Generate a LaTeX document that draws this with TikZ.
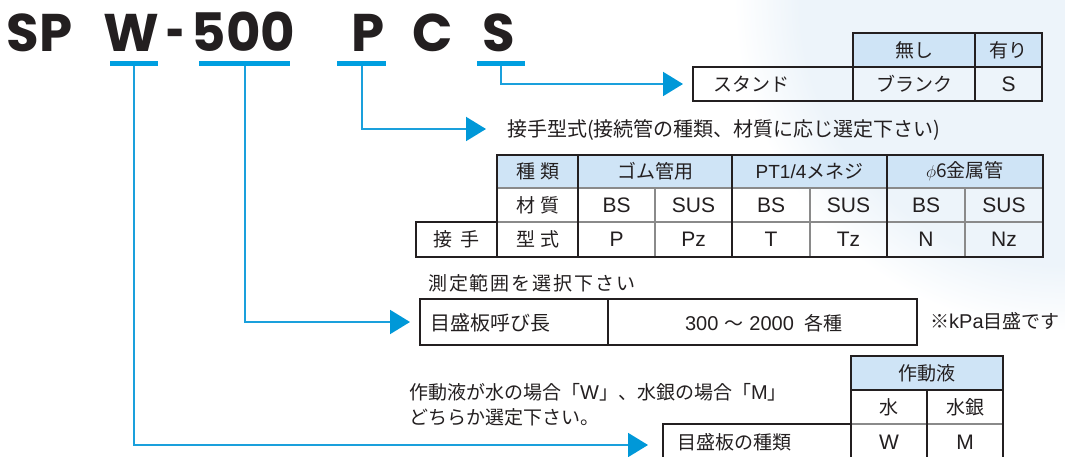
\documentclass[tikz,border=0pt]{standalone}
\usepackage{fontspec}
\usepackage{graphicx}
\setmainfont{Noto Sans CJK JP}
\newfontfamily\lat{Liberation Sans}
\newfontfamily\titlefont{Poppins}
\usetikzlibrary{arrows.meta,fadings}
\definecolor{ink}{HTML}{231F20}
\definecolor{cyanline}{HTML}{1AA0DC}
\definecolor{barblue}{HTML}{009FE0}
\definecolor{tipblue}{HTML}{0098D8}
\definecolor{headfill}{HTML}{CFE4F6}
\definecolor{gridgray}{HTML}{8A8A8A}
\definecolor{bgblue}{HTML}{EDF4FA}
\begin{document}
\begin{tikzpicture}[x=1pt,y=-1pt,
  frame/.style={line width=2.2pt,draw=ink,line cap=rect},
  thin/.style={line width=1.3pt,draw=gridgray},
  bar/.style={rectangle,fill=barblue,minimum height=5pt,inner sep=0pt,draw=none},
  conn/.style={line width=2pt,draw=cyanline,-{Triangle[length=20pt,width=24pt,color=tipblue]}},
  ttl/.style={anchor=base,inner sep=0pt,text=ink,font=\titlefont\bfseries\fontsize{53}{53}\selectfont},
  jp/.style={inner sep=0pt,text=ink,font=\fontsize{19}{19}\selectfont},
  la/.style={inner sep=0pt,text=ink,font=\lat\fontsize{21}{21}\selectfont},
]
\useasboundingbox (0,0) rectangle (1065,457);
\clip (0,0) rectangle (1065,457);
\fill[bgblue,path fading=circle with fuzzy edge 20 percent] (1065,0) circle (330);

% title
\node[ttl] (tSP) at (39.5,52) {SP};
\node[ttl] (tW) at (131.5,52) {W};
\node[ttl] (tDash) at (175.5,52) {\scalebox{0.6}[1]{-}};
\node[ttl] (t500) at (243.5,52) {500};
\node[ttl] (tP) at (368.5,52) {P};
\node[ttl] (tC) at (433,52) {C};
\node[ttl] (tS) at (499,52) {S};

% bars
\node[bar,minimum width=48pt] (barW) at (134,63.5) {};
\node[bar,minimum width=91pt] (bar500) at (244.5,63.5) {};
\node[bar,minimum width=49pt] (barP) at (361.5,63.5) {};
\node[bar,minimum width=48pt] (barS) at (501,63.5) {};

% arrow tips
\coordinate (tipS) at (683,84);
\coordinate (tipP) at (486,129);
\coordinate (tip500) at (410,322);
\coordinate (tipW) at (648,445);

\draw[conn] (barS.south) |- (tipS);
\draw[conn] (barP.south) |- (tipP);
\draw[conn] (bar500.south) |- (tip500);
\draw[conn] (barW.south) |- (tipW);

% table 1 (stand)
\fill[headfill] (853,33) rectangle (1042,67);
\draw[frame] (853,33) rectangle (1042,67);
\draw[frame] (693,67) rectangle (1042,101);
\draw[frame] (853,67) -- (853,101);
\draw[frame] (975,33) -- (975,101);
\node[jp] (s1) at (914,50) {無し};
\node[jp] (s2) at (1008.5,50) {有り};
\node[jp,anchor=west] (s3) at (713,84) {スタンド};
\node[jp] (s4) at (914,84) {ブランク};
\node[la] (s5) at (1008.5,84) {S};

% table 2 (fitting)
\node[jp,anchor=west,font=\fontsize{20}{20}\selectfont] (fitTitle) at (507,130) {接手型式(接続管の種類、材質に応じ選定下さい)};
\fill[headfill] (497,155) rectangle (1043,188);
\draw[thin] (497,188) -- (1043,188);
\draw[thin] (497,222) -- (1043,222);
\draw[thin] (655,188) -- (655,257);
\draw[thin] (810,188) -- (810,257);
\draw[thin] (965,188) -- (965,257);
\draw[frame] (497,155) rectangle (1043,257);
\draw[frame] (416,222) rectangle (497,257);
\draw[frame] (578,155) -- (578,257);
\draw[frame] (732,155) -- (732,257);
\draw[frame] (887,155) -- (887,257);
\node[jp] (f1) at (537.5,171.5) {種\hspace{5pt}類};
\node[jp] (f2) at (537.5,205) {材\hspace{5pt}質};
\node[jp] (f3) at (537.5,239.5) {型\hspace{5pt}式};
\node[jp] (f4) at (456.5,239.5) {接\hspace{9pt}手};
\node[jp] (h1) at (655,171.5) {ゴム管用};
\node[jp] (h2) at (809.5,171.5) {{\lat\fontsize{19}{19}\selectfont PT1/4}メネジ};
\node[jp] (h3) at (965,171.5) {$\phi$6金属管};
\node[la] (m1) at (616.5,205) {BS};
\node[la] (m2) at (693.5,205) {SUS};
\node[la] (m3) at (771,205) {BS};
\node[la] (m4) at (848.5,205) {SUS};
\node[la] (m5) at (926,205) {BS};
\node[la] (m6) at (1004,205) {SUS};
\node[la] (c1) at (616.5,239.5) {P};
\node[la] (c2) at (693.5,239.5) {Pz};
\node[la] (c3) at (771,239.5) {T};
\node[la] (c4) at (848.5,239.5) {Tz};
\node[la] (c5) at (926,239.5) {N};
\node[la] (c6) at (1004,239.5) {Nz};

% table 3 (range)
\node[jp,anchor=west,font=\addfontfeature{LetterSpace=10}\fontsize{19}{19}\selectfont] (rTitle) at (428,283) {測定範囲を選択下さい};
\draw[frame] (420,299) rectangle (917,345);
\draw[frame] (608,299) -- (608,345);
\node[jp,anchor=west,font=\fontsize{20}{20}\selectfont] (r1) at (430,323) {目盛板呼び長};
\node[jp] (r2) at (764,323) {{\lat\fontsize{20}{20}\selectfont 300}\hspace{6pt}〜\hspace{6pt}{\lat\fontsize{20}{20}\selectfont 2000}\hspace{11pt}各種};
\node[jp,anchor=west] (r3) at (930,321) {※{\lat\fontsize{20}{20}\selectfont kPa}目盛です};

% table 4 (fluid)
\node[jp,anchor=west] (n1) at (409,392) {作動液が水の場合「{\lat\fontsize{20}{20}\selectfont W}」、水銀の場合「{\lat\fontsize{20}{20}\selectfont M}」};
\node[jp,anchor=west] (n2) at (409,417) {どちらか選定下さい。};
\fill[headfill] (851,356) rectangle (1003,390);
\draw[thin] (851,424) -- (1003,424);
\draw[frame] (851,390) -- (1003,390);
\draw[frame] (851,356) rectangle (1003,470);
\draw[frame] (851,424) -- (663,424) -- (663,470);
\draw[frame] (927,390) -- (927,470);
\node[jp] (w1) at (927,373) {作動液};
\node[jp] (w2) at (889,407) {水};
\node[jp] (w3) at (965,407) {水銀};
\node[jp,anchor=west] (w4) at (677,442) {目盛板の種類};
\node[la] (w5) at (889,442) {W};
\node[la] (w6) at (965,442) {M};
\end{tikzpicture}
\end{document}
